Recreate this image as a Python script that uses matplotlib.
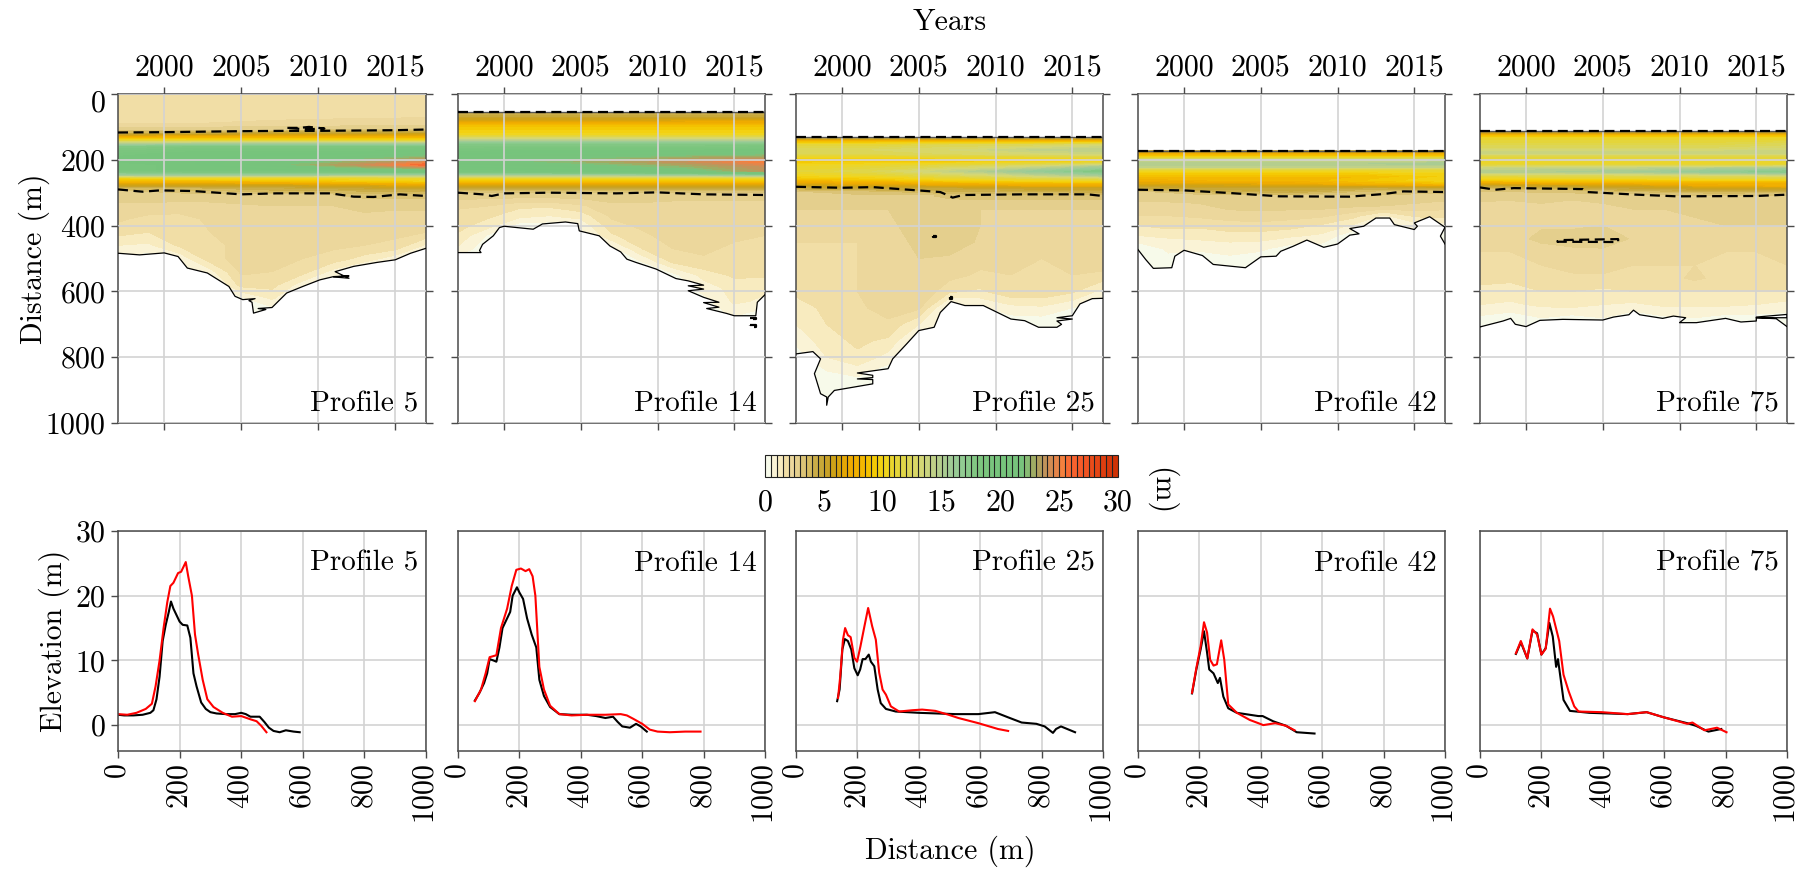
import matplotlib
matplotlib.use("Agg")
import matplotlib.pyplot as plt
from matplotlib.colors import LinearSegmentedColormap
from matplotlib.transforms import ScaledTranslation
import numpy as np

plt.rcParams['font.family'] = ['cmr10', 'DejaVu Serif']
plt.rcParams['axes.unicode_minus'] = False
plt.rcParams['axes.formatter.use_mathtext'] = True

W, H = 1807, 869

# --- colour scale
cmap_stops = [0, 0.5, 1, 1.5, 2, 2.5, 3, 3.5, 4, 4.5, 5, 5.5, 6, 7, 8, 9, 10, 11, 12, 13, 14, 15, 16, 17, 18,
              20, 22, 22.5, 23, 24, 25, 25.5, 26, 27, 28, 29, 30]
cmap_colors = ['#f7faea', '#faf3d6', '#f8ebc0', '#f1dea6', '#ecd89d', '#e5d08f', '#dcc478', '#d6bc62', '#cbae4a',
               '#c8a93a', '#c8a22a', '#cca21a', '#d4a30e', '#eeaa00', '#f3b400', '#f4c800', '#f2d51a', '#e6d535',
               '#ddd650', '#d8d870', '#c5d285', '#afcc90', '#9ccb98', '#8fcb90', '#7fc680', '#76c47c', '#78c37c',
               '#8db870', '#a5a860', '#c4925a', '#e88448', '#f57f3c', '#f76832', '#f65a28', '#ea4c1a', '#de3e10',
               '#cf3206']
levels = np.arange(0, 30.5, 0.5)

band_years = [1997, 2002, 2007, 2012, 2017]
lee_years = [1997, 1999, 2001, 2003, 2005, 2007, 2009, 2011, 2013, 2015, 2017]

names = ['Profile 5', 'Profile 14', 'Profile 25', 'Profile 42', 'Profile 75']

# --- Profile 5
band_d_5 = [0, 60, 90, 110, 120, 130, 140, 150, 160, 180, 200, 215, 230, 245, 255, 265, 275, 285, 292, 305]
band_z_5 = [[1.7, 1.7, 1.7, 1.7, 1.7], [1.8, 1.8, 1.8, 1.8, 1.8], [2.0, 2.0, 2.1, 2.2, 2.3], [2.9, 2.9, 3.0, 3.05, 3.1],
            [4, 4.2, 5, 5, 5.2], [7, 7.5, 7.5, 7.5, 7.5], [10.5, 10, 10, 10, 10], [14, 14.5, 14.5, 14.5, 14.5],
            [17.5, 18, 18, 18, 18], [19, 20, 20, 20, 21], [20, 20, 21, 22, 23.5], [19, 20, 21.5, 23.5, 26],
            [19, 20, 20, 21, 21.5], [16, 16, 16, 15.5, 15.5], [10, 10.5, 10.5, 10.5, 11], [8, 8, 8.5, 9, 9.5],
            [6, 6, 6, 6.5, 7], [4, 4, 4.5, 5, 5.5], [3, 3.5, 4, 4.2, 4.5], [2.8, 2.9, 3, 3.2, 3.2]]
lee_d_5 = [305, 340, 380, 420, 460, 500, 540, 580, 620, 660, 700]
lee_z_5 = [[2.8, 2.8, 2.8, 2.9, 3.0, 3.0, 3.0, 3.0, 3.2, 3.2, 3.2],
           [2.4, 2.4, 2.3, 2.3, 2.4, 2.5, 2.5, 2.5, 2.6, 2.6, 2.6],
           [2.1, 1.8, 1.8, 2.1, 2.2, 2.3, 2.3, 2.3, 2.4, 2.3, 2.3],
           [1.7, 1.5, 1.7, 2.0, 2.1, 2.2, 2.2, 2.2, 2.2, 2.1, 2.0],
           [1.0, 0.9, 1.6, 1.9, 2.1, 2.2, 2.1, 2.1, 2.0, 1.9, 0.9],
           [0.2, 0.2, 0.6, 1.8, 2.2, 2.1, 2.0, 1.8, 1.3, 0.7, 0.2],
           [0.1, 0.1, 0.1, 0.8, 2.1, 2.0, 1.7, 0.8, 0.1, 0.1, 0.1],
           [0.1, 0.1, 0.1, 0.1, 1.7, 1.7, 0.7, 0.1, 0.1, 0.1, 0.1],
           [0.1, 0.1, 0.1, 0.1, 0.4, 1.1, 0.1, 0.1, 0.1, 0.1, 0.1],
           [0.1, 0.1, 0.1, 0.1, 0.1, 0.2, 0.1, 0.1, 0.1, 0.1, 0.1],
           [0.1, 0.1, 0.1, 0.1, 0.1, 0.1, 0.1, 0.1, 0.1, 0.1, 0.1]]
shore_t_5 = [1997, 1998.4, 2000, 2000.9, 2001.5, 2002.8, 2004.2, 2004.6, 2005.1, 2005.9, 2005.5, 2005.7, 2005.8, 2006.6,
             2006.1, 2007, 2007.95, 2009, 2010.1, 2011, 2012, 2011, 2012, 2011.1, 2012.3, 2013.8, 2015, 2016, 2017]
shore_d_5 = [484, 489, 483, 494, 529, 544, 585, 615, 625, 622, 628, 633, 666, 655, 652, 649, 605, 585, 565, 555, 553,
             556, 560, 540, 524, 512, 504, 484, 469]
dash_t_5 = [[1997, 1998.6, 1999.7, 2001.9, 2005, 2007.3, 2010.8, 2012.3, 2013.6, 2015.3, 2017],
            [1997, 2000, 2005, 2008, 2010, 2015, 2017],
            [2008, 2008.8, 2009.4, 2010.4, 2009.4, 2008.8, 2008]]
dash_d_5 = [[290, 297, 293, 295, 305, 302, 302, 312, 313, 305, 310],
            [117, 116, 113, 112, 112, 110, 108],
            [103, 103, 100, 105, 107, 106, 103]]

# --- Profile 14
band_d_14 = [55, 70, 85, 98, 125, 138, 150, 175, 195, 205, 220, 235, 245, 255, 265, 275, 288, 300, 310]
band_z_14 = [[4, 4, 4, 4, 4], [5, 5, 5, 5, 5], [6.5, 6.5, 6.5, 7, 7], [8.8, 8.8, 8.8, 8.8, 8.8],
             [10.5, 10.5, 10.5, 10.5, 10.5], [13.5, 13.5, 13.5, 13.5, 13.5], [17, 17, 17, 17, 17],
             [19.5, 20, 20, 20, 20.5], [21, 22, 22, 23, 23.5], [22, 22, 23, 24, 25.5], [20, 21, 21.5, 22.5, 24],
             [19, 19.5, 20, 21, 23.5], [15.5, 15.5, 15.5, 16, 16.5], [11, 11, 11, 11, 11], [8.5, 8.5, 8.5, 8.5, 8.5],
             [6.5, 6.5, 6.5, 6.5, 6.5], [4.5, 4.5, 4.5, 4.5, 4.5], [3, 3, 3, 3, 3], [2.7, 2.7, 2.7, 2.7, 2.7]]
lee_d_14 = [310, 340, 370, 400, 430, 470, 510, 550, 590, 630, 670, 710]
lee_z_14 = [[2.7, 2.7, 2.7, 2.7, 2.7, 2.7, 2.7, 2.7, 2.7, 2.7, 2.7],
            [2.1, 2.0, 1.6, 1.6, 1.9, 2.4, 2.4, 2.3, 2.3, 2.3, 2.3],
            [1.8, 1.6, 1.2, 1.0, 1.2, 2.1, 2.2, 2.2, 2.1, 2.1, 2.2],
            [1.7, 1.2, 0.2, 0.2, 0.6, 1.8, 2.1, 2.1, 2.0, 2.0, 2.1],
            [1.4, 0.4, 0.1, 0.1, 0.2, 1.4, 1.9, 2.2, 2.2, 2.1, 2.0],
            [0.9, 0.1, 0.1, 0.1, 0.1, 0.3, 1.5, 2.0, 2.1, 1.9, 1.9],
            [0.1, 0.1, 0.1, 0.1, 0.1, 0.1, 0.5, 1.6, 1.9, 1.8, 1.8],
            [0.1, 0.1, 0.1, 0.1, 0.1, 0.1, 0.1, 0.3, 1.2, 1.6, 1.6],
            [0.1, 0.1, 0.1, 0.1, 0.1, 0.1, 0.1, 0.1, 0.7, 1.2, 1.1],
            [0.1, 0.1, 0.1, 0.1, 0.1, 0.1, 0.1, 0.1, 0.3, 1.1, 0.9],
            [0.1, 0.1, 0.1, 0.1, 0.1, 0.1, 0.1, 0.1, 0.1, 0.6, 0.1],
            [0.1, 0.1, 0.1, 0.1, 0.1, 0.1, 0.1, 0.1, 0.1, 0.1, 0.1]]
shore_t_14 = [1997, 1998.5, 1998.4, 1998.6, 1999.3, 1999.7, 2000, 2001.9, 2002.5, 2004, 2004.8, 2004.9, 2006.2, 2006.9,
              2007.6, 2008, 2008.6, 2009.9, 2011.2, 2012, 2013, 2012, 2013, 2012, 2013, 2014, 2013, 2014, 2013.2, 2014.5,
              2015, 2016.4, 2016.5, 2017]
shore_d_14 = [482, 482, 476, 457, 431, 406, 402, 411, 395, 389, 394, 416, 431, 462, 480, 502, 512, 532, 561, 568, 581,
              583, 593, 598, 618, 633, 634, 648, 652, 667, 674, 674, 633, 610]
dash_t_14 = [[1997, 1998.6, 1999.2, 2000, 2003, 2007.3, 2010, 2013, 2017], [1997, 2017],
             [2016, 2016.4, 2016.4, 2016, 2016], [2016, 2016.4, 2016.4, 2016, 2016]]
dash_d_14 = [[300, 305, 310, 302, 300, 302, 299, 305, 307], [55, 55],
             [680, 680, 684, 684, 680], [703, 703, 708, 708, 703]]

# --- Profile 25
band_d_25 = [135, 145, 155, 170, 182, 195, 205, 220, 235, 248, 260, 272, 285, 295, 310]
band_z_25 = [[4, 4, 4, 4, 4], [8.5, 8.5, 8.5, 8.5, 8.5], [11, 11, 12, 12, 13], [12.5, 12.5, 13, 14, 14.5],
             [12, 12, 12.5, 13, 13.5], [9.5, 9.5, 10, 10, 10.5], [9, 9, 9, 9.5, 9.5], [10.5, 11, 12, 13, 15],
             [11, 12, 14, 16, 18], [10, 10.5, 12, 13.5, 15], [8.5, 9, 10, 10.5, 11], [6.5, 7, 7.5, 8, 8],
             [4.5, 5, 5, 5.5, 5.5], [3, 3.5, 4, 4.2, 4.2], [2.9, 2.9, 3.0, 3.1, 3.2]]
lee_d_25 = [310, 350, 400, 450, 500, 550, 600, 650, 700, 750, 800, 850, 900, 950]
lee_z_25 = [[3.0, 2.9, 2.9, 2.9, 2.9, 3.1, 3.2, 3.2, 3.2, 3.2, 3.2],
            [2.5, 2.5, 2.5, 2.5, 2.6, 2.6, 2.5, 2.5, 2.5, 2.5, 2.5],
            [2.2, 2.1, 2.2, 2.4, 2.7, 2.8, 2.5, 2.3, 2.2, 2.3, 2.5],
            [2.0, 2.0, 2.0, 2.3, 2.6, 2.9, 2.4, 2.1, 2.2, 2.1, 2.5],
            [2.0, 2.0, 2.0, 2.2, 2.5, 2.4, 2.2, 2.1, 2.0, 2.1, 2.3],
            [1.9, 2.0, 2.0, 2.2, 2.5, 2.2, 1.9, 2.0, 2.0, 2.0, 1.9],
            [1.6, 1.8, 2.0, 2.3, 2.5, 1.6, 1.4, 1.9, 1.9, 1.6, 0.8],
            [1.3, 1.6, 1.9, 2.2, 2.1, 0.1, 0.4, 0.8, 0.9, 0.5, 0.1],
            [1.0, 1.5, 1.7, 1.9, 1.0, 0.1, 0.1, 0.1, 0.1, 0.1, 0.1],
            [0.6, 1.3, 1.6, 1.4, 0.1, 0.1, 0.1, 0.1, 0.1, 0.1, 0.1],
            [0.2, 1.0, 1.4, 0.8, 0.1, 0.1, 0.1, 0.1, 0.1, 0.1, 0.1],
            [0.1, 0.4, 0.6, 0.1, 0.1, 0.1, 0.1, 0.1, 0.1, 0.1, 0.1],
            [0.1, 0.2, 0.1, 0.1, 0.1, 0.1, 0.1, 0.1, 0.1, 0.1, 0.1],
            [0.1, 0.1, 0.1, 0.1, 0.1, 0.1, 0.1, 0.1, 0.1, 0.1, 0.1]]
shore_t_25 = [1997, 1998.1, 1998.6, 1998.2, 1998.6, 1999, 1999, 1999.1, 1999.5, 2002, 2002, 2001, 2002, 2002, 2001, 2003, 2003.3,
              2004.2, 2005, 2006, 2006.4, 2007.1, 2008, 2009.2, 2011, 2011.9, 2012.8, 2014, 2014.3, 2014, 2015, 2014, 2015,
              2015.5, 2016.3, 2017]
shore_d_25 = [790, 783, 805, 850, 911, 921, 946, 921, 901, 881, 868, 866, 862, 855, 848, 835, 805, 760, 719, 709, 664,
              631, 643, 643, 684, 689, 709, 709, 700, 690, 684, 680, 674, 638, 622, 621]
dash_t_25 = [[1997, 2000, 2002, 2006.4, 2007, 2007.2, 2007.9, 2011.8, 2016, 2017], [1997, 2017],
             [2005.9, 2006.1, 2006.1, 2005.9, 2005.9], [2007.05, 2007.15, 2007.15, 2007.05, 2007.05]]
dash_d_25 = [[282, 285, 283, 298, 310, 315, 307, 305, 305, 310], [131, 131],
             [431, 431, 436, 436, 431], [618, 618, 623, 623, 618]]

# --- Profile 42
band_d_42 = [172, 182, 192, 200, 212, 222, 230, 240, 250, 262, 272, 285, 295, 310]
band_z_42 = [[3.8, 3.8, 3.8, 3.8, 3.8], [7, 7, 7, 7, 7], [10, 10, 10, 10, 10], [13, 13, 13, 13, 13.5],
             [15, 15, 15, 15, 15.5], [14, 14, 14, 14, 14], [11, 11, 11, 11, 11], [9.5, 9.5, 9.5, 9.5, 10],
             [8.5, 8.5, 8.5, 8.5, 9.5], [7.5, 8, 8, 9, 10], [6.5, 6.5, 7, 8, 8.5], [4.5, 5, 5, 4.5, 5],
             [3, 4, 4.5, 3.5, 3.2], [2.8, 2.8, 3, 2.8, 2.8]]
lee_d_42 = [310, 340, 370, 400, 430, 470, 510, 550]
lee_z_42 = [[2.8, 2.8, 2.8, 2.8, 2.8, 2.8, 2.8, 2.8, 2.8, 2.8, 2.8],
            [2.3, 2.3, 2.4, 2.7, 2.7, 2.7, 2.7, 2.6, 2.5, 2.4, 2.2],
            [2.0, 2.0, 2.1, 2.2, 2.3, 2.2, 2.1, 1.7, 0.9, 1.6, 1.7],
            [1.5, 1.7, 1.6, 1.8, 1.8, 1.7, 1.4, 0.9, 0.1, 0.7, 0.7],
            [1.0, 1.1, 1.2, 1.3, 1.3, 1.1, 0.9, 0.1, 0.1, 0.1, 0.1],
            [0.1, 0.6, 0.6, 0.7, 0.6, 0.2, 0.2, 0.1, 0.1, 0.1, 0.1],
            [0.1, 0.3, 0.1, 0.3, 0.1, 0.1, 0.1, 0.1, 0.1, 0.1, 0.1],
            [0.1, 0.1, 0.1, 0.1, 0.1, 0.1, 0.1, 0.1, 0.1, 0.1, 0.1]]
shore_t_42 = [1997, 1997.5, 1998, 1999.2, 1999.4, 2000, 2001.2, 2001.9, 2004, 2005, 2006, 2006.3, 2007.1, 2008, 2009.1, 2010,
              2010.8, 2011.4, 2010.8, 2011.7, 2012.5, 2013.4, 2013.7, 2015, 2015.2, 2015, 2016, 2017, 2016.7, 2017]
shore_d_42 = [473, 503, 530, 528, 493, 475, 491, 518, 528, 495, 493, 478, 463, 444, 466, 456, 429, 425, 409, 402, 377,
              377, 397, 412, 402, 392, 373, 405, 432, 456]
dash_t_42 = [[1997, 2000, 2003, 2006.2, 2010.8, 2013, 2014.3, 2017], [1997, 2017]]
dash_d_42 = [[291, 293, 301, 311, 312, 304, 296, 298], [172, 172]]

# --- Profile 75
band_d_75 = [115, 125, 135, 150, 165, 178, 190, 205, 215, 225, 236, 248, 258, 268, 278, 290, 300, 315]
band_z_75 = [[3.5, 3.5, 3.5, 3.5, 3.5], [8, 8, 8, 8, 8], [10.5, 10.5, 10.5, 10.5, 10.5], [11.5, 11.5, 11.5, 11.5, 12],
             [12.5, 12.5, 12.5, 12.5, 13], [14, 14, 14, 14, 14], [11.5, 11.5, 11.5, 11.5, 11.5],
             [10.5, 10.5, 10.5, 10.5, 10.5], [11, 11, 11, 11, 11], [13.5, 14, 14, 14.5, 15], [15, 15, 15.5, 16.5, 17.5],
             [11.5, 12, 12, 12.5, 13], [10, 10, 10, 10.5, 10.5], [7.5, 8, 8, 8, 8], [5, 5.5, 6, 7, 7.5],
             [3.2, 3.5, 4.5, 5, 5], [2.8, 3, 3.1, 3.6, 3.5], [2.6, 2.6, 2.7, 2.7, 2.7]]
lee_d_75 = [315, 350, 400, 440, 480, 520, 560, 600, 640, 680, 720]
lee_z_75 = [[2.6, 2.6, 2.6, 2.6, 2.6, 2.6, 2.6, 2.6, 2.6, 2.6, 2.6],
            [2.3, 2.2, 2.4, 2.1, 2.4, 2.5, 2.5, 2.6, 2.6, 2.6, 2.6],
            [2.2, 2.3, 2.4, 2.3, 2.5, 2.5, 2.5, 2.4, 2.5, 2.5, 2.5],
            [2.1, 2.2, 2.7, 3.0, 3.0, 2.4, 2.3, 2.2, 2.2, 2.2, 2.3],
            [2.0, 2.0, 2.1, 2.2, 2.3, 2.1, 2.1, 2.1, 2.0, 2.0, 2.1],
            [1.9, 1.9, 2.0, 2.3, 2.4, 2.0, 2.0, 2.0, 2.0, 2.0, 2.0],
            [1.6, 1.6, 1.7, 1.8, 1.8, 1.8, 1.8, 2.1, 1.8, 1.8, 1.8],
            [1.4, 1.3, 1.5, 1.5, 1.4, 1.5, 1.5, 1.5, 1.5, 1.5, 1.5],
            [1.0, 0.9, 1.1, 1.2, 1.0, 0.9, 1.1, 1.1, 1.1, 1.0, 0.8],
            [0.4, 0.2, 0.5, 0.3, 0.5, 0.1, 0.4, 0.5, 0.3, 0.3, 0.3],
            [0.1, 0.1, 0.1, 0.1, 0.1, 0.1, 0.1, 0.1, 0.1, 0.1, 0.1]]
shore_t_75 = [1997, 1998.5, 1999, 1999.3, 2000, 2000.9, 2002.4, 2005, 2005.7, 2006.7, 2007, 2007.4, 2008.9, 2009.6, 2010.4,
              2010, 2011.1, 2013, 2014, 2015, 2015, 2017, 2017, 2015, 2016.3, 2017]
shore_d_75 = [708, 690, 682, 700, 707, 688, 685, 687, 678, 671, 657, 671, 682, 675, 680, 695, 695, 682, 693, 690, 678,
              670, 680, 680, 683, 707]
dash_t_75 = [[1997, 1998, 1999.2, 2003.7, 2004, 2007.2, 2009.8, 2015, 2017], [1997, 2017],
             [2002, 2006, 2006, 2002.3, 2002]]
dash_d_75 = [[284, 291, 286, 289, 298, 306, 311, 310, 306], [113, 113],
             [449, 450, 441, 444, 449]]

# --- elevation profiles, black is first survey and red the last
black_x_5 = [0, 20, 50, 80, 105, 115, 125, 135, 145, 155, 165, 172, 180, 190, 200, 210, 225, 235, 245, 255, 270, 285, 300, 320,
             350, 380, 400, 415, 430, 460, 475, 490, 505, 525, 545, 570, 590]
black_y_5 = [1.6, 1.5, 1.5, 1.6, 1.9, 2.3, 4, 7.5, 13, 15.5, 17.5, 19.1, 18, 17, 16, 15.5, 15.4, 13.5, 8, 6, 3.5, 2.5, 2, 1.8,
             1.7, 1.7, 1.9, 1.7, 1.3, 1.3, 0.5, -0.4, -0.9, -1.1, -0.8, -1, -1.1]
red_x_5 = [0, 30, 60, 90, 110, 122, 135, 148, 160, 170, 180, 195, 205, 220, 228, 240, 250, 260, 275, 290, 310, 340, 370, 400,
           430, 450, 465, 482]
red_y_5 = [1.7, 1.6, 1.9, 2.5, 3.3, 6, 10, 15, 19, 21.5, 22, 23.5, 23.7, 25.2, 23, 20, 14, 11, 7, 4, 2.8, 1.9, 1.3, 1.4,
           0.9, 0.6, -0.1, -1.1]
black_x_14 = [55, 70, 85, 95, 103, 115, 125, 135, 145, 160, 170, 178, 192, 200, 212, 225, 240, 255, 265, 280, 300, 330, 370, 420,
              450, 480, 505, 520, 535, 560, 580, 595, 615]
black_y_14 = [3.8, 5, 6.5, 8, 10.2, 10, 9.8, 12, 15, 16.5, 17.5, 20, 21.3, 20.5, 19.5, 16.5, 14, 12, 7, 4.5, 2.8, 1.7, 1.6, 1.6,
              1.4, 1.1, 1.3, 0.5, -0.2, -0.4, 0.2, -0.2, -1]
red_x_14 = [55, 75, 90, 103, 125, 140, 160, 175, 190, 205, 220, 232, 243, 252, 265, 280, 300, 330, 370, 420, 480, 530, 550, 570,
            600, 625, 650, 690, 740, 790]
red_y_14 = [3.7, 5.5, 8, 10.5, 10.8, 15, 18, 21.5, 24, 24.2, 23.8, 24.1, 23, 20, 9, 5.5, 3, 1.7, 1.5, 1.6, 1.6, 1.7, 1.5, 1,
            0.2, -0.7, -1, -1.1, -1, -1]
black_x_25 = [134, 142, 151, 159, 169, 180, 190, 201, 209, 217, 226, 237, 244, 255, 266, 276, 293, 325, 400, 519, 594, 648, 691,
              735, 783, 810, 837, 847, 863, 909]
black_y_25 = [3.7, 5.5, 11.7, 13.3, 13, 11.7, 8.8, 7.7, 8.6, 10.2, 10.2, 10.9, 9.8, 9.1, 5.5, 3.4, 2.5, 2.1, 1.9, 1.7, 1.7, 2, 1.2,
              0.4, 0.2, -0.2, -1.2, -0.6, -0.2, -1.1]
red_x_25 = [137, 144, 153, 160, 169, 178, 190, 199, 210, 223, 235, 248, 260, 271, 282, 293, 309, 336, 379, 411, 454, 497, 529, 594,
            658, 691]
red_y_25 = [4.2, 7.5, 13.2, 15, 13.9, 13.6, 10.4, 9.8, 12.2, 15.3, 18.1, 15.3, 13.2, 8.1, 5.5, 4.7, 2.9, 2.1, 2.3, 2.4, 2.2, 1.6, 1.1, 0.3,
            -0.6, -0.9]
black_x_42 = [176, 190, 204, 215, 225, 232, 246, 260, 267, 278, 294, 322, 392, 406, 440, 482, 517, 575]
black_y_42 = [4.9, 8.6, 11.7, 14.5, 11.2, 8.6, 8, 6.5, 7.3, 4.4, 2.6, 1.9, 1.4, 1.4, 0.6, -0.1, -1.1, -1.3]
red_x_42 = [176, 190, 204, 215, 225, 235, 246, 257, 271, 281, 294, 322, 364, 392, 408, 447, 482, 510]
red_y_42 = [5, 8.8, 12.2, 15.9, 14.3, 10.1, 9.2, 9.4, 13.1, 10.1, 3.2, 1.9, 0.8, 0.3, 0, 0.3, -0.1, -0.8]
black_x_75 = [117, 133, 154, 171, 186, 200, 214, 226, 237, 248, 254, 272, 293, 356, 481, 543, 599, 675, 703, 744, 786]
black_y_75 = [11, 12.8, 10.3, 14.6, 14.2, 10.9, 11.9, 15.8, 13.7, 9, 10.2, 3.9, 2.2, 1.9, 1.7, 2, 1.2, 0.3, -0.1, -1, -0.6]
red_x_75 = [117, 133, 154, 171, 186, 200, 214, 228, 238, 258, 272, 289, 307, 321, 397, 481, 543, 599, 675, 692, 731, 772, 803]
red_y_75 = [11.1, 13, 10.3, 14.8, 14, 10.9, 11.8, 18, 16.8, 13, 7.8, 5.2, 2.9, 2.1, 2, 1.7, 2, 1.2, 0.2, 0.4, -0.8, -0.4, -1.1]

band_d = [band_d_5, band_d_14, band_d_25, band_d_42, band_d_75]
band_z = [band_z_5, band_z_14, band_z_25, band_z_42, band_z_75]
lee_d = [lee_d_5, lee_d_14, lee_d_25, lee_d_42, lee_d_75]
lee_z = [lee_z_5, lee_z_14, lee_z_25, lee_z_42, lee_z_75]
shore_t = [shore_t_5, shore_t_14, shore_t_25, shore_t_42, shore_t_75]
shore_d = [shore_d_5, shore_d_14, shore_d_25, shore_d_42, shore_d_75]
dash_t = [dash_t_5, dash_t_14, dash_t_25, dash_t_42, dash_t_75]
dash_d = [dash_d_5, dash_d_14, dash_d_25, dash_d_42, dash_d_75]
black_x = [black_x_5, black_x_14, black_x_25, black_x_42, black_x_75]
black_y = [black_y_5, black_y_14, black_y_25, black_y_42, black_y_75]
red_x = [red_x_5, red_x_14, red_x_25, red_x_42, red_x_75]
red_y = [red_y_5, red_y_14, red_y_25, red_y_42, red_y_75]

cols = [(118, 426), (458, 765), (796, 1103), (1138, 1445), (1480, 1787)]


def make_axes(x0, x1, y0, y1):
    return fig.add_axes([x0 / W, 1 - y1 / H, (x1 - x0) / W, (y1 - y0) / H])


stops = [s / 30 for s in cmap_stops]
cmap = LinearSegmentedColormap.from_list('beach', list(zip(stops, cmap_colors)), N=60)

fs = 21.5
fs_name = 21
edge = '#4a4a4a'
fig = plt.figure(figsize=(W / 100, H / 100), dpi=100)

for i in range(5):
    x0, x1 = cols[i]

    # top row, elevation over time
    ax = make_axes(x0, x1, 94, 423)
    cf = ax.contourf(band_years, band_d[i], band_z[i], levels=levels, cmap=cmap, zorder=1)
    ax.contourf(lee_years, lee_d[i], lee_z[i], levels=levels, cmap=cmap, zorder=1)
    ax.fill(list(shore_t[i]) + [2017, 1997], list(shore_d[i]) + [1000, 1000], color='white', lw=0, zorder=1.5)
    ax.plot(shore_t[i], shore_d[i], color='black', lw=0.9, zorder=3)
    for t, d in zip(dash_t[i], dash_d[i]):
        ax.plot(t, d, color='black', lw=1.6, ls=(0, (4.5, 2.5)), zorder=3)
    if i > 0:
        ax.plot(dash_t[i][1], dash_d[i][1], color='#555555', lw=1.0, zorder=2.9)
    ax.set_xlim(1997, 2017)
    ax.set_ylim(1000, 0)
    ax.set_xticks([2000, 2005, 2010, 2015])
    ax.set_yticks([0, 200, 400, 600, 800, 1000])
    ax.xaxis.set_major_formatter('{x:.0f}')
    ax.tick_params(top=True, labeltop=True, bottom=True, labelbottom=False, left=True, right=True,
                   labelleft=(i == 0), labelsize=fs, length=5, width=1, color=edge, pad=4)
    ax.grid(True, color='#d3d3d3', lw=1.2)
    ax.set_axisbelow(False)
    for s in ax.spines.values():
        s.set_color(edge)
        s.set_linewidth(1.1)
    ax.text(0.974, 0.036, names[i], transform=ax.transAxes, ha='right', va='baseline', fontsize=fs_name)
    if i == 0:
        ax.set_ylabel('Distance (m)', fontsize=fs)
        ax.yaxis.set_label_coords(-0.222, 0.5)
        lab0 = ax.get_yticklabels()[0]
        lab0.set_transform(lab0.get_transform() + ScaledTranslation(0, -5 / 72, fig.dpi_scale_trans))

    # bottom row, elevation profiles
    ax2 = make_axes(x0, x1, 531, 751)
    ax2.plot(black_x[i], black_y[i], color='black', lw=1.5)
    ax2.plot(red_x[i], red_y[i], color='red', lw=1.5)
    ax2.set_xlim(0, 1000)
    ax2.set_ylim(-4, 30)
    ax2.set_xticks([0, 200, 400, 600, 800, 1000])
    ax2.set_yticks([0, 10, 20, 30])
    ax2.tick_params(axis='x', labelrotation=90, labelsize=fs, length=5, width=1, color=edge, pad=4)
    ax2.tick_params(axis='y', labelsize=fs, left=(i == 0), labelleft=(i == 0), length=5, width=1, color=edge, pad=4)
    ax2.grid(True, color='#d3d3d3', lw=1.2)
    ax2.set_axisbelow(True)
    for s in ax2.spines.values():
        s.set_color(edge)
        s.set_linewidth(1.1)
    ax2.text(0.974, 0.82, names[i], transform=ax2.transAxes, ha='right', va='baseline', fontsize=fs_name)
    if i == 0:
        ax2.set_ylabel('Elevation (m)', fontsize=fs)
        ax2.yaxis.set_label_coords(-0.157, 0.5)

# colourbar
cax = make_axes(765, 1118, 455, 477)
cb = fig.colorbar(cf, cax=cax, orientation='horizontal', drawedges=True, ticks=[0, 5, 10, 15, 20, 25, 30])
cb.dividers.set_color('#222222')
cb.dividers.set_linewidth(0.8)
cb.outline.set_edgecolor('#222222')
cb.ax.set_xlim(0, 30)
cb.ax.tick_params(length=0, labelsize=fs, pad=9)
cb.ax.xaxis.set_major_formatter('{x:.0f}')

fig.text(1161 / W, 1 - 491 / H, '(m)', rotation=270, ha='center', va='center', fontsize=fs)
fig.text(950 / W, 1 - 22 / H, 'Years', ha='center', va='center', fontsize=fs)
fig.text(950 / W, 1 - 851 / H, 'Distance (m)', ha='center', va='center', fontsize=fs)

fig.savefig('out.png', dpi=100)
